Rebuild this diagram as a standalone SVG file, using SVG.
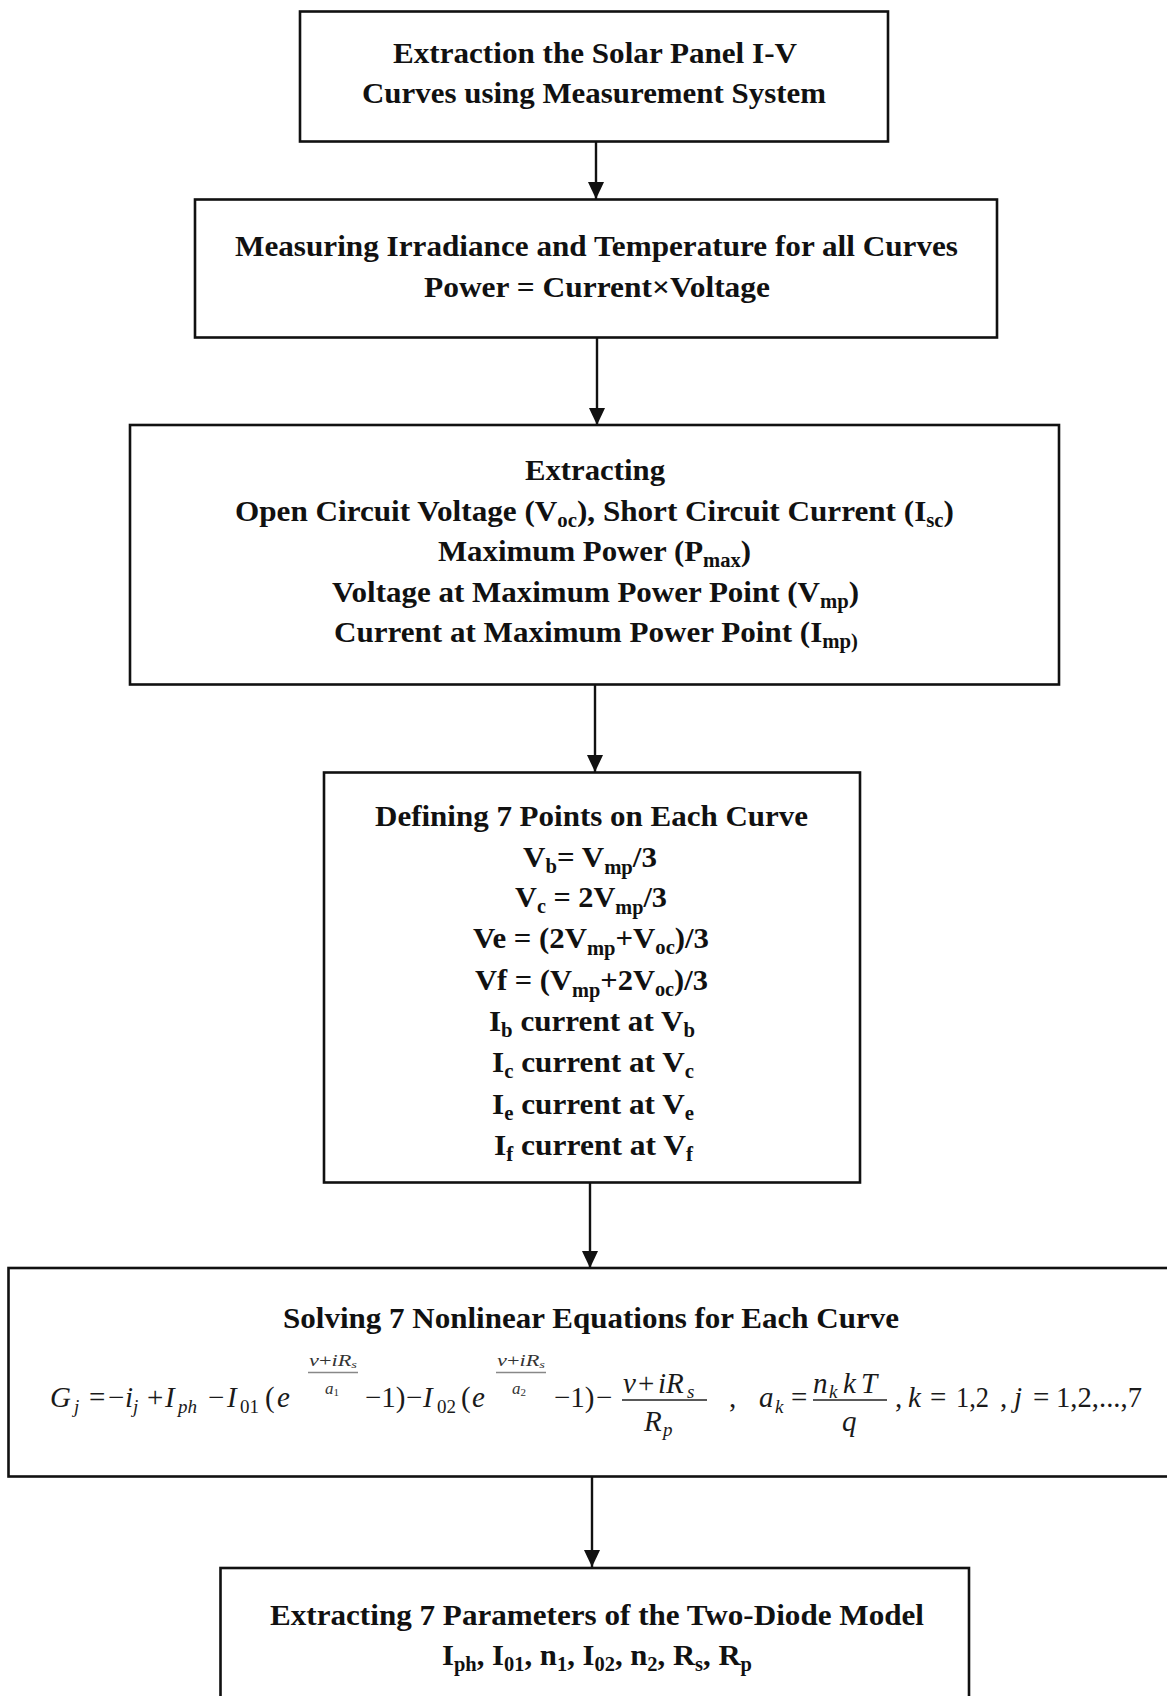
<svg xmlns="http://www.w3.org/2000/svg" width="1167" height="1696" viewBox="0 0 1167 1696">
<defs>
<style>
.box{fill:#fff;stroke:#111;stroke-width:2.6}
.t{font-family:"Liberation Serif","Times New Roman",serif;font-weight:bold;font-size:30px;fill:#111}
.sb{font-size:20px}
.m{font-family:"Liberation Serif","Times New Roman",serif;font-size:29px;fill:#1a1a1a}
.i{font-style:italic}
.ms{font-size:19px}
.mx{font-size:17px;fill:#333}
.mxs{font-size:11px}
.conn{stroke:#111;stroke-width:2.4;fill:none}
.bar{stroke:#222;stroke-width:1.3}
.ebar{stroke:#888;stroke-width:1.3}
</style>
<marker id="ah" markerWidth="17" markerHeight="18" refX="18" refY="8.5" orient="auto" markerUnits="userSpaceOnUse" viewBox="0 0 18 17">
<path d="M0,0 L18,8.5 L0,17 Z" fill="#111"/>
</marker>
</defs>
<rect width="1167" height="1696" fill="#fff"/>

<g id="connectors">
<line class="conn" x1="596" y1="142" x2="596" y2="199" marker-end="url(#ah)"/>
<line class="conn" x1="597" y1="338" x2="597" y2="425" marker-end="url(#ah)"/>
<line class="conn" x1="595" y1="685" x2="595" y2="772" marker-end="url(#ah)"/>
<line class="conn" x1="590" y1="1183" x2="590" y2="1268" marker-end="url(#ah)"/>
<line class="conn" x1="592" y1="1477" x2="592" y2="1567" marker-end="url(#ah)"/>
</g>

<g id="node1">
<rect class="box" x="300" y="11.5" width="588" height="130"/>
<text class="t" x="393" y="63" textLength="404" lengthAdjust="spacingAndGlyphs">Extraction the Solar Panel I-V</text>
<text class="t" x="362" y="103" textLength="464" lengthAdjust="spacingAndGlyphs">Curves using Measurement System</text>
</g>

<g id="node2">
<rect class="box" x="195" y="199.5" width="802" height="138"/>
<text class="t" x="235" y="255.5" textLength="723" lengthAdjust="spacingAndGlyphs">Measuring Irradiance and Temperature for all Curves</text>
<text class="t" x="424" y="297" textLength="346" lengthAdjust="spacingAndGlyphs">Power = Current×Voltage</text>
</g>

<g id="node3">
<rect class="box" x="130" y="425" width="929" height="259.5"/>
<text class="t" x="525" y="480" textLength="140" lengthAdjust="spacingAndGlyphs">Extracting</text>
<text class="t" x="235" y="520.5" textLength="719" lengthAdjust="spacingAndGlyphs">Open Circuit Voltage (V<tspan class="sb" dy="6">oc</tspan><tspan dy="-6">), Short Circuit Current (I</tspan><tspan class="sb" dy="6">sc</tspan><tspan dy="-6">)</tspan></text>
<text class="t" x="438" y="561" textLength="313" lengthAdjust="spacingAndGlyphs">Maximum Power (P<tspan class="sb" dy="6">max</tspan><tspan dy="-6">)</tspan></text>
<text class="t" x="332" y="601.5" textLength="527" lengthAdjust="spacingAndGlyphs">Voltage at Maximum Power Point (V<tspan class="sb" dy="6">mp</tspan><tspan dy="-6">)</tspan></text>
<text class="t" x="334" y="642" textLength="524" lengthAdjust="spacingAndGlyphs">Current at Maximum Power Point (I<tspan class="sb" dy="6">mp)</tspan></text>
</g>

<g id="node4">
<rect class="box" x="324" y="772.5" width="536" height="410"/>
<text class="t" x="375" y="826" textLength="433" lengthAdjust="spacingAndGlyphs">Defining 7 Points on Each Curve</text>
<text class="t" x="523" y="867" textLength="134" lengthAdjust="spacingAndGlyphs">V<tspan class="sb" dy="6">b</tspan><tspan dy="-6">= V</tspan><tspan class="sb" dy="7">mp</tspan><tspan dy="-7">/3</tspan></text>
<text class="t" x="515" y="907" textLength="152" lengthAdjust="spacingAndGlyphs">V<tspan class="sb" dy="6">c</tspan><tspan dy="-6"> = 2V</tspan><tspan class="sb" dy="7">mp</tspan><tspan dy="-7">/3</tspan></text>
<text class="t" x="473" y="948" textLength="236" lengthAdjust="spacingAndGlyphs">Ve = (2V<tspan class="sb" dy="7">mp</tspan><tspan dy="-7">+V</tspan><tspan class="sb" dy="6">oc</tspan><tspan dy="-6">)/3</tspan></text>
<text class="t" x="475" y="990" textLength="233" lengthAdjust="spacingAndGlyphs">Vf = (V<tspan class="sb" dy="7">mp</tspan><tspan dy="-7">+2V</tspan><tspan class="sb" dy="6">oc</tspan><tspan dy="-6">)/3</tspan></text>
<text class="t" x="489" y="1031" textLength="206" lengthAdjust="spacingAndGlyphs">I<tspan class="sb" dy="6">b</tspan><tspan dy="-6"> current at V</tspan><tspan class="sb" dy="6">b</tspan></text>
<text class="t" x="492" y="1072" textLength="202" lengthAdjust="spacingAndGlyphs">I<tspan class="sb" dy="6">c</tspan><tspan dy="-6"> current at V</tspan><tspan class="sb" dy="6">c</tspan></text>
<text class="t" x="492" y="1114" textLength="202" lengthAdjust="spacingAndGlyphs">I<tspan class="sb" dy="6">e</tspan><tspan dy="-6"> current at V</tspan><tspan class="sb" dy="6">e</tspan></text>
<text class="t" x="494" y="1155" textLength="199" lengthAdjust="spacingAndGlyphs">I<tspan class="sb" dy="6">f</tspan><tspan dy="-6"> current at V</tspan><tspan class="sb" dy="6">f</tspan></text>
</g>

<g id="node5">
<rect class="box" x="8.5" y="1268" width="1170" height="208.5"/>
<text class="t" x="283" y="1328" textLength="616" lengthAdjust="spacingAndGlyphs">Solving 7 Nonlinear Equations for Each Curve</text>
<g class="m">
<text class="i" x="50" y="1407">G</text>
<text class="i ms" x="74" y="1413">j</text>
<text x="89" y="1407">=</text>
<text x="108" y="1407">−</text>
<text class="i" x="125" y="1407">i</text>
<text class="i ms" x="133" y="1413">j</text>
<text x="147" y="1407">+</text>
<text class="i" x="165" y="1407">I</text>
<text class="i ms" x="178" y="1413">ph</text>
<text x="208" y="1407">−</text>
<text class="i" x="227" y="1407">I</text>
<text class="ms" x="240" y="1413">01</text>
<text x="265" y="1407">(</text>
<text class="i" x="277" y="1407">e</text>
<text class="i mx" x="309" y="1366" textLength="48" lengthAdjust="spacingAndGlyphs">v<tspan font-style="normal">+</tspan>iR<tspan class="mxs" dy="2">s</tspan></text>
<line class="ebar" x1="308" y1="1372.5" x2="358" y2="1372.5"/>
<text class="i mx" x="325" y="1394">a<tspan class="mxs" font-style="normal" dy="2">1</tspan></text>
<text x="365" y="1407">−1)</text>
<text x="406" y="1407">−</text>
<text class="i" x="423" y="1407">I</text>
<text class="ms" x="437" y="1413">02</text>
<text x="461" y="1407">(</text>
<text class="i" x="472" y="1407">e</text>
<text class="i mx" x="497" y="1366" textLength="48" lengthAdjust="spacingAndGlyphs">v<tspan font-style="normal">+</tspan>iR<tspan class="mxs" dy="2">s</tspan></text>
<line class="ebar" x1="496" y1="1372.5" x2="546" y2="1372.5"/>
<text class="i mx" x="512" y="1394">a<tspan class="mxs" font-style="normal" dy="2">2</tspan></text>
<text x="554" y="1407">−1)</text>
<text x="596" y="1407">−</text>
<text class="i" x="623" y="1393">v</text>
<text x="638" y="1393">+</text>
<text class="i" x="658" y="1393">i</text>
<text class="i" x="666" y="1393">R</text>
<text class="i ms" x="687" y="1398">s</text>
<line class="bar" x1="622" y1="1400" x2="707" y2="1400"/>
<text class="i" x="644" y="1431">R</text>
<text class="i ms" x="663" y="1436">p</text>
<text x="729" y="1407">,</text>
<text class="i" x="759" y="1407">a</text>
<text class="i ms" x="775" y="1413">k</text>
<text x="791" y="1407">=</text>
<text class="i" x="813" y="1393">n</text>
<text class="i ms" x="829" y="1398">k</text>
<text class="i" x="843" y="1393">k</text>
<text class="i" x="861" y="1393">T</text>
<line class="bar" x1="813" y1="1400" x2="887" y2="1400"/>
<text class="i" x="842" y="1431">q</text>
<text x="895" y="1407">,</text>
<text class="i" x="908" y="1407">k</text>
<text x="930" y="1407">=</text>
<text x="956" y="1407" textLength="33" lengthAdjust="spacingAndGlyphs">1,2</text>
<text x="1000" y="1407">,</text>
<text class="i" x="1014" y="1407">j</text>
<text x="1033" y="1407">=</text>
<text x="1056" y="1407" textLength="86" lengthAdjust="spacingAndGlyphs">1,2,...,7</text>
</g>
</g>

<g id="node6">
<rect class="box" x="220.5" y="1568" width="748.5" height="140"/>
<text class="t" x="270" y="1625" textLength="654" lengthAdjust="spacingAndGlyphs">Extracting 7 Parameters of the Two-Diode Model</text>
<text class="t" x="442" y="1665" textLength="310" lengthAdjust="spacingAndGlyphs">I<tspan class="sb" dy="6">ph</tspan><tspan dy="-6">, I</tspan><tspan class="sb" dy="6">01</tspan><tspan dy="-6">, n</tspan><tspan class="sb" dy="6">1</tspan><tspan dy="-6">, I</tspan><tspan class="sb" dy="6">02</tspan><tspan dy="-6">, n</tspan><tspan class="sb" dy="6">2</tspan><tspan dy="-6">, R</tspan><tspan class="sb" dy="6">s</tspan><tspan dy="-6">, R</tspan><tspan class="sb" dy="6">p</tspan></text>
</g>
</svg>
